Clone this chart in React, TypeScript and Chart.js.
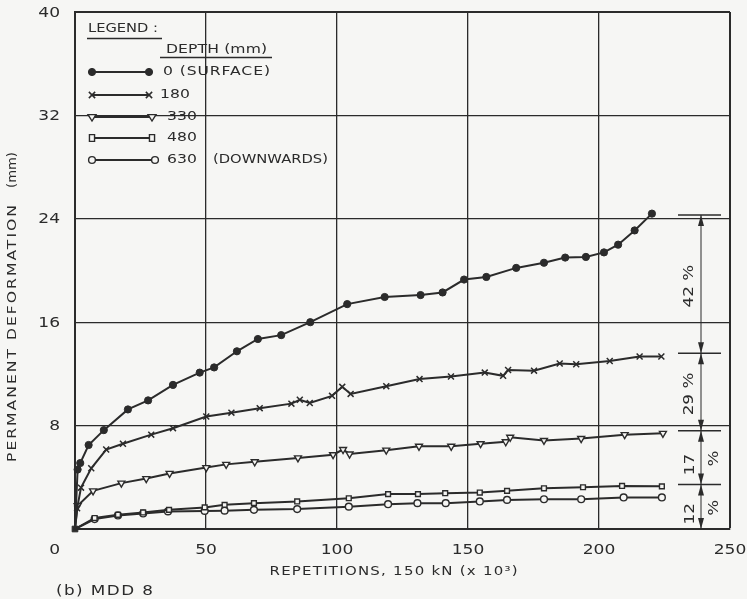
import React, { useEffect, useRef } from 'react';
import { Chart, registerables } from 'chart.js';

Chart.register(...registerables);

const FONT = '"DejaVu Sans", "Liberation Sans", sans-serif';
const INK = '#2b2b2b';
const PAPER = '#f6f6f4';

const xTicks = [0, 50, 100, 150, 200, 250];
const yTicks = [0, 8, 16, 24, 32, 40];
const xTitle = 'REPETITIONS, 150 kN (x 10\u00B3)';
const yTitle = 'PERMANENT DEFORMATION';
const yUnit = '(mm)';
const caption = '(b) MDD 8';
const legendTitle = 'LEGEND :';
const legendSubtitle = 'DEPTH (mm)';
const seriesLabels = ['0 (SURFACE)', '180', '330', '480', '630 (DOWNWARDS)'];

const surface = [
  [0, 0], [1.0, 4.6], [2.0, 5.1], [5.2, 6.5], [11.0, 7.65], [20.2, 9.25], [27.9, 9.95],
  [37.4, 11.15], [47.6, 12.1], [53.1, 12.5], [61.8, 13.75], [69.8, 14.7], [78.7, 15.0], [89.8, 16.0],
  [103.9, 17.4], [118.2, 17.95], [131.9, 18.1], [140.3, 18.3], [148.5, 19.3], [157.0, 19.5],
  [168.4, 20.2], [179.0, 20.6], [187.1, 21.0], [195.0, 21.05], [201.9, 21.4], [207.3, 22.0],
  [213.6, 23.1], [220.2, 24.4],
];
const depth180 = [
  [0, 0], [0.8, 1.6], [2.3, 3.2], [6.2, 4.7], [11.9, 6.15], [18.3, 6.6], [29.1, 7.3], [37.4, 7.8],
  [50.1, 8.7], [59.7, 9.0], [70.5, 9.35], [82.6, 9.7], [85.8, 10.0], [89.6, 9.75], [98.1, 10.3],
  [102.0, 11.0], [105.2, 10.45], [118.8, 11.05], [131.5, 11.6], [143.5, 11.8], [156.4, 12.1],
  [163.4, 11.85], [165.3, 12.3], [175.2, 12.25], [185.0, 12.8], [191.3, 12.75], [204.1, 13.0],
  [215.5, 13.35], [223.8, 13.35],
];
const depth330 = [
  [0, 0], [1.0, 1.8], [6.9, 2.95], [17.7, 3.55], [27.2, 3.9], [36.1, 4.3], [50.1, 4.75], [57.7, 5.0],
  [68.6, 5.2], [85.1, 5.5], [98.5, 5.75], [102.3, 6.15], [104.8, 5.8], [118.8, 6.1], [131.3, 6.4],
  [143.6, 6.4], [154.8, 6.6], [164.4, 6.75], [166.1, 7.1], [179.0, 6.85], [193.2, 7.0],
  [209.8, 7.3], [224.4, 7.4],
];
const depth480 = [
  [0, 0], [7.5, 0.85], [16.4, 1.1], [26.0, 1.28], [35.9, 1.48], [49.5, 1.67], [57.1, 1.87],
  [68.3, 2.0], [84.8, 2.13], [104.5, 2.38], [119.5, 2.7], [130.9, 2.7], [141.3, 2.77], [154.5, 2.82],
  [164.9, 2.95], [179.0, 3.15], [193.9, 3.23], [208.8, 3.33], [224.0, 3.3],
];
const depth630 = [
  [0, 0], [7.5, 0.77], [16.4, 1.05], [26.0, 1.2], [35.5, 1.36], [49.5, 1.4], [57.1, 1.42],
  [68.3, 1.48], [84.8, 1.54], [104.5, 1.73], [119.5, 1.92], [130.7, 2.0], [141.5, 2.0],
  [154.5, 2.13], [164.9, 2.25], [179.0, 2.3], [193.2, 2.3], [209.4, 2.44], [224.0, 2.44],
];

// dimension line on the right: levels (mm) and share labels
const shareLevels = [24.3, 13.6, 7.6, 3.45, 0];
const shareLabels = ['42', '29', '17', '12'];

type Style = { pointStyle: string; radius: number; filled: boolean; rotation: number; width: number };
const styles: Style[] = [
  { pointStyle: 'circle', radius: 3.6, filled: true, rotation: 0, width: 1 },
  { pointStyle: 'crossRot', radius: 4.2, filled: false, rotation: 0, width: 1.5 },
  { pointStyle: 'triangle', radius: 4, filled: false, rotation: 180, width: 1.4 },
  { pointStyle: 'rect', radius: 3.4, filled: false, rotation: 0, width: 1.4 },
  { pointStyle: 'circle', radius: 3.4, filled: false, rotation: 0, width: 1.4 },
];

function drawMarker(ctx: CanvasRenderingContext2D, s: Style, x: number, y: number) {
  ctx.save();
  ctx.strokeStyle = INK;
  ctx.fillStyle = s.filled ? INK : PAPER;
  ctx.lineWidth = s.width;
  ctx.beginPath();
  const r = s.radius;
  if (s.pointStyle === 'circle') {
    ctx.arc(x, y, r, 0, Math.PI * 2);
    ctx.fill();
    ctx.stroke();
  } else if (s.pointStyle === 'crossRot') {
    const d = r * 0.75;
    ctx.moveTo(x - d, y - d); ctx.lineTo(x + d, y + d);
    ctx.moveTo(x + d, y - d); ctx.lineTo(x - d, y + d);
    ctx.stroke();
  } else if (s.pointStyle === 'triangle') {
    ctx.moveTo(x - r, y - r * 0.6); ctx.lineTo(x + r, y - r * 0.6); ctx.lineTo(x, y + r);
    ctx.closePath();
    ctx.fill();
    ctx.stroke();
  } else {
    ctx.rect(x - r * 0.75, y - r, r * 1.5, r * 2);
    ctx.fill();
    ctx.stroke();
  }
  ctx.restore();
}

// Wide technical lettering: horizontal stretch plus letter spacing to reach a target width.
function wide(
  ctx: CanvasRenderingContext2D,
  text: string,
  x: number,
  y: number,
  opt: { width?: number; k?: number; align?: 'left' | 'center' | 'right'; rotate?: boolean },
) {
  const align = opt.align || 'left';
  ctx.save();
  (ctx as any).letterSpacing = '0px';
  ctx.translate(x, y);
  if (opt.rotate) ctx.rotate(-Math.PI / 2);
  const w0 = ctx.measureText(text).width;
  let k = opt.k || 1.2;
  let sp = 0;
  let total = w0 * k;
  if (opt.width) {
    if (w0 * k > opt.width) k = opt.width / w0;
    sp = text.length > 1 ? (opt.width / k - w0) / (text.length - 1) : 0;
    total = opt.width;
  }
  ctx.scale(k, 1);
  (ctx as any).letterSpacing = sp.toFixed(2) + 'px';
  ctx.textAlign = 'left';
  const start = align === 'left' ? 0 : align === 'center' ? -total / 2 : -total;
  ctx.fillText(text, start / k, 0);
  ctx.restore();
}

const decorPlugin = {
  id: 'decor',
  beforeDraw(chart: any) {
    const ctx = chart.ctx as CanvasRenderingContext2D;
    ctx.save();
    ctx.fillStyle = PAPER;
    ctx.fillRect(0, 0, chart.width, chart.height);
    ctx.restore();
  },
  afterDraw(chart: any) {
    const ctx = chart.ctx as CanvasRenderingContext2D;
    const xs = chart.scales.x;
    const ys = chart.scales.y;
    const area = chart.chartArea;
    ctx.save();
    ctx.fillStyle = INK;
    ctx.strokeStyle = INK;
    ctx.textBaseline = 'middle';

    // tick labels
    ctx.font = `14px ${FONT}`;
    const labelCol = area.left - 15;
    for (const v of yTicks) {
      if (v === 0) continue;
      wide(ctx, String(v), labelCol, ys.getPixelForValue(v) + 1, { k: 1.22, align: 'right' });
    }
    const xRow = area.bottom + 21;
    for (const v of xTicks) {
      if (v === 0) {
        wide(ctx, '0', labelCol, xRow, { k: 1.22, align: 'right' });
      } else {
        wide(ctx, String(v), xs.getPixelForValue(v), xRow, { k: 1.22, align: 'center' });
      }
    }

    // axis titles and caption
    ctx.font = `13px ${FONT}`;
    wide(ctx, xTitle, (area.left + area.right) / 2 - 9, 572, { width: 248, k: 1.15, align: 'center' });
    ctx.font = `14px ${FONT}`;
    wide(ctx, caption, 56, 591, { width: 97, k: 1.2 });
    ctx.font = `13px ${FONT}`;
    wide(ctx, yTitle, 13, 462, { width: 257, k: 1.2, rotate: true });
    wide(ctx, yUnit, 13, 188, { width: 36, k: 1.2, rotate: true });

    // legend
    const lx = area.left + 12;
    ctx.font = `13px ${FONT}`;
    wide(ctx, legendTitle, lx + 1, 29, { width: 70, k: 1.2 });
    ctx.lineWidth = 1.6;
    ctx.beginPath();
    ctx.moveTo(lx, 38.5); ctx.lineTo(lx + 75, 38.5);
    ctx.stroke();
    wide(ctx, legendSubtitle, 166, 50, { width: 101, k: 1.2 });
    ctx.beginPath();
    ctx.moveTo(160, 57.5); ctx.lineTo(272, 57.5);
    ctx.stroke();
    const rowY = [72, 95, 117, 138, 160];
    const labelX = [163, 160, 167, 167, 167];
    const labelW = [107, 30, 30, 30, 30];
    const lineEnd = [149, 149, 152, 152, 155];
    for (let i = 0; i < seriesLabels.length; i++) {
      const y = rowY[i];
      ctx.lineWidth = 2;
      ctx.beginPath();
      ctx.moveTo(92, y); ctx.lineTo(lineEnd[i], y);
      ctx.stroke();
      drawMarker(ctx, styles[i], 92, y);
      drawMarker(ctx, styles[i], lineEnd[i], y);
      ctx.font = `13px ${FONT}`;
      ctx.fillStyle = INK;
      if (i === 4) {
        const [num, rest] = seriesLabels[i].split(' ');
        wide(ctx, num, labelX[i], y, { width: labelW[i], k: 1.2 });
        wide(ctx, rest, 213, y, { width: 115, k: 1.2 });
      } else {
        wide(ctx, seriesLabels[i], labelX[i], y, { width: labelW[i], k: 1.2 });
      }
    }

    // dimension line with arrows
    const vx = 701;
    const py = shareLevels.map((v) => ys.getPixelForValue(v));
    ctx.lineWidth = 1;
    ctx.beginPath();
    ctx.moveTo(vx, py[0]); ctx.lineTo(vx, py[py.length - 1]);
    ctx.stroke();
    ctx.lineWidth = 1.5;
    for (let i = 0; i < py.length - 1; i++) {
      ctx.beginPath();
      ctx.moveTo(678, py[i]); ctx.lineTo(721, py[i]);
      ctx.stroke();
    }
    const arrow = (y: number, dir: number) => {
      ctx.beginPath();
      ctx.moveTo(vx, y);
      ctx.lineTo(vx - 3, y + dir * 11);
      ctx.lineTo(vx + 3, y + dir * 11);
      ctx.closePath();
      ctx.fill();
    };
    for (let i = 0; i < py.length; i++) {
      if (i < py.length - 1) arrow(py[i], 1);
      if (i > 0) arrow(py[i], -1);
    }
    ctx.font = `14px ${FONT}`;
    for (let i = 0; i < shareLabels.length; i++) {
      const mid = (py[i] + py[i + 1]) / 2;
      if (i < 2) {
        wide(ctx, shareLabels[i] + ' %', 689, mid + 2, { k: 1.2, align: 'center', rotate: true });
      } else {
        wide(ctx, shareLabels[i], 690, mid + 7, { k: 1.2, align: 'center', rotate: true });
        wide(ctx, '%', 714, mid + 1, { k: 1.2, align: 'center', rotate: true });
      }
    }
    ctx.restore();
  },
};

export default function App() {
  const ref = useRef<HTMLCanvasElement | null>(null);
  useEffect(() => {
    if (!ref.current) return;
    const all = [surface, depth180, depth330, depth480, depth630];
    const datasets: any[] = all.map((pts, i) => {
      const s = styles[i];
      return {
        label: seriesLabels[i],
        data: pts.map(([x, y]) => ({ x, y })),
        showLine: true,
        borderColor: INK,
        borderWidth: 2,
        tension: 0,
        pointStyle: s.pointStyle,
        rotation: s.rotation,
        pointRadius: (c: any) => (c.dataIndex === 0 ? 0 : s.radius),
        pointBorderWidth: s.width,
        pointBorderColor: INK,
        pointBackgroundColor: s.filled ? INK : PAPER,
        clip: false,
      };
    });
    datasets.push({
      label: 'origin',
      data: [{ x: 0, y: 0 }],
      showLine: false,
      pointStyle: 'rect',
      pointRadius: 4,
      pointBackgroundColor: INK,
      pointBorderColor: INK,
      clip: false,
    });
    const chart = new Chart(ref.current, {
      type: 'scatter',
      data: { datasets },
      options: {
        animation: false,
        responsive: false,
        maintainAspectRatio: false,
        layout: { padding: { top: 12, right: 17, left: 0, bottom: 0 } },
        plugins: { legend: { display: false }, tooltip: { enabled: false }, title: { display: false } },
        scales: {
          x: {
            type: 'linear',
            min: 0,
            max: 250,
            afterBuildTicks: (sc: any) => { sc.ticks = xTicks.map((v) => ({ value: v })); },
            afterFit: (sc: any) => { sc.height = 70; },
            ticks: { display: false },
            grid: {
              color: INK,
              lineWidth: (c: any) => (c.tick && c.tick.value === 250 ? 2 : 1.3),
              drawTicks: false,
            },
            border: { display: true, color: INK, width: 2 },
          },
          y: {
            type: 'linear',
            min: 0,
            max: 40,
            afterBuildTicks: (sc: any) => { sc.ticks = yTicks.map((v) => ({ value: v })); },
            afterFit: (sc: any) => { sc.width = 75; },
            ticks: { display: false },
            grid: {
              color: INK,
              lineWidth: (c: any) => (c.tick && c.tick.value === 40 ? 2 : 1.3),
              drawTicks: false,
            },
            border: { display: true, color: INK, width: 2 },
          },
        },
      },
      plugins: [decorPlugin],
    } as any);
    return () => chart.destroy();
  }, []);
  return (
    <div style={{ position: 'fixed', left: 0, top: 0, width: 747, height: 599, background: PAPER }}>
      <canvas ref={ref} width={747} height={599} style={{ width: 747, height: 599, display: 'block' }} />
    </div>
  );
}
